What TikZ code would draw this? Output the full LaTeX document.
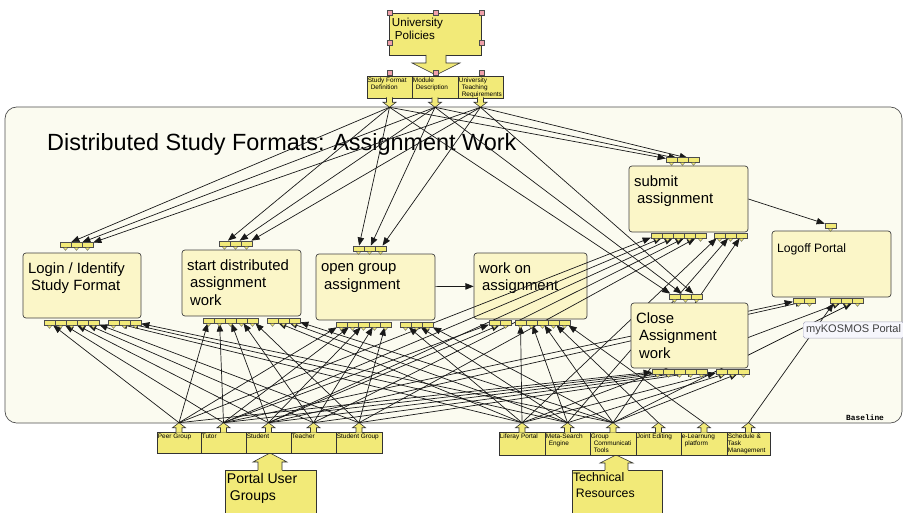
\documentclass[tikz,border=0pt]{standalone}
\usepackage{fontspec}
\setmainfont{Liberation Sans}
\newfontfamily\lanefont{Liberation Mono}
\usepackage{xcolor}
\usetikzlibrary{positioning, calc, arrows.meta, fit}

\definecolor{laneback}{RGB}{251,251,240}
\definecolor{laneline}{RGB}{80,80,80}
\definecolor{procfill}{RGB}{251,246,200}
\definecolor{objyellow}{RGB}{242,234,120}
\definecolor{handlepink}{RGB}{240,160,170}
\definecolor{tipfill}{RGB}{246,246,252}
\definecolor{tipline}{RGB}{170,170,190}

\pgfdeclarelayer{background}
\pgfdeclarelayer{front}
\pgfsetlayers{background,main,front}

% indent of wrapped lines
\newcommand\ind{\hspace*{2.5pt}}

\begin{document}
\begin{tikzpicture}[
  x=0.03cm, y=-0.03cm,
  font=\fontsize{12.7}{15.3}\selectfont,
  proc/.style={draw=black!75, fill=procfill, rounded corners=2.5pt, inner sep=0pt, line width=0.6pt},
  ptext/.style={anchor=north west, inner sep=0pt, align=left, xshift=4.5pt, yshift=-8pt,
    execute at begin node=\strut},
  obj/.style={draw=black!80, fill=objyellow, inner sep=0pt, line width=0.5pt},
  btext/.style={anchor=north west, inner sep=0pt, align=left, execute at begin node=\strut},
  stext/.style={anchor=north west, inner sep=0pt, align=left, xshift=0.8pt, yshift=-1.7pt,
    font=\fontsize{5.5}{6}\selectfont, execute at begin node=\strut},
  cell/.style={draw=black!70, fill=objyellow, minimum width=0.33cm, minimum height=0.16cm,
    inner sep=0pt, line width=0.3pt},
  conn/.style={draw=black!90, line width=0.6pt, -{Triangle[length=7pt, width=5.5pt]}},
  handle/.style={draw=black!70, fill=handlepink, line width=0.4pt},
  upnib/.pic={\filldraw[obj] (-3,1) -- (-3,-4) -- (-6.5,-4) -- (0,-9) -- (6.5,-4) -- (3,-4) -- (3,1);},
  downnib/.pic={\filldraw[obj] (-3,-1) -- (-3,4) -- (-6.5,4) -- (0,9) -- (6.5,4) -- (3,4) -- (3,-1);},
]
\useasboundingbox (0,0) rectangle (903,513);

% ---- lane ----
\begin{pgfonlayer}{background}
  \fill[white] (0,0) rectangle (903,513);
  \draw[draw=laneline, fill=laneback, line width=0.6pt, rounded corners=10pt] (5,107) rectangle (902,423);
\end{pgfonlayer}
\node[anchor=base west, inner sep=0pt, font=\fontsize{20}{24}\selectfont] (title) at (47,151)
  {Distributed Study Formats: Assignment Work};
\node[anchor=base west, inner sep=0pt, font=\fontsize{6.7}{8}\lanefont\bfseries] (lanename) at (846,420) {Baseline};

% ---- functions ----
\node[proc, fit={(23,253)(141,318)}, label={[ptext]north west:Login / Identify\\\ind Study Format}] (login) {};
\node[proc, fit={(182,250)(301,316)}, label={[ptext]north west:start distributed\\\ind assignment\\\ind work}] (start) {};
\node[proc, fit={(316,254)(435,320)}, label={[ptext]north west:open group\\\ind assignment}] (open) {};
\node[proc, fit={(474,253)(587,319)}, label={[ptext]north west:work on\\\ind assignment}] (work) {};
\node[proc, fit={(629,166)(748,232)}, label={[ptext]north west:submit\\\ind assignment}] (submit) {};
\node[proc, fit={(772,231)(891,297)}, label={[ptext, font=\fontsize{10.4}{12.5}\selectfont, yshift=-1.6pt]north west:Logoff Portal}] (logoff) {};
\begin{pgfonlayer}{front}
  \node[proc, fit={(631,303)(748,368)}, label={[ptext]north west:Close\\\ind Assignment\\\ind work}] (close) {};
\end{pgfonlayer}

% ---- policies (top) ----
\node[obj, fit={(389,13)(481,55)}, label={[btext, font=\fontsize{9.9}{11}\selectfont, xshift=2.6pt, yshift=-4.3pt]north west:University\\\ind Policies}] (policies) {};
\fill[objyellow] (426,54) -- (426,63) -- (412,63) -- (436,75) -- (460,63) -- (446,63) -- (446,54) -- cycle;
\draw[black!80, line width=0.5pt] (426,55) -- (426,63) -- (412,63) -- (436,75) -- (460,63) -- (446,63) -- (446,55);
\node[obj, fit={(367,76)(412,98)}, label={[stext]north west:Study Format\\\ind Definition}] (sfd) {};
\node[obj, fit={(412,76)(458,98)}, label={[stext]north west:Module\\\ind Description}] (mod) {};
\node[obj, fit={(458,76)(503,98)}, label={[stext]north west:University\\\ind Teaching\\\ind Requirements}] (utr) {};
\foreach \s in {sfd,mod,utr}{
  \pic at (\s.south) {downnib};
  \coordinate (\s-o) at ($(\s.south)+(0,9)$);
}

% ---- user groups and resources (bottom) ----
\node[obj, fit={(225,470)(316,516)}, label={[btext, font=\fontsize{12}{14.5}\selectfont, xshift=1.7pt, yshift=-2.6pt]north west:Portal User\\\ind Groups}] (users) {};
\fill[objyellow] (258,471) -- (258,462) -- (253,462) -- (270,453) -- (287,462) -- (282,462) -- (282,471) -- cycle;
\draw[black!80, line width=0.5pt] (258,470) -- (258,462) -- (253,462) -- (270,453) -- (287,462) -- (282,462) -- (282,470);
\node[obj, fit={(572,470)(662,516)}, label={[btext, font=\fontsize{10.5}{13.6}\selectfont, xshift=0.9pt, yshift=-2.4pt]north west:Technical\\\ind Resources}] (techres) {};
\fill[objyellow] (605,471) -- (605,463) -- (600,463) -- (616,455) -- (633,463) -- (628,463) -- (628,471) -- cycle;
\draw[black!80, line width=0.5pt] (605,470) -- (605,463) -- (600,463) -- (616,455) -- (633,463) -- (628,463) -- (628,470);

\node[obj, fit={(157,432)(201,453)}, label={[stext]north west:Peer Group}] (peer) {};
\node[obj, fit={(201,432)(246,453)}, label={[stext]north west:Tutor}] (tutor) {};
\node[obj, fit={(246,432)(291,453)}, label={[stext]north west:Student}] (student) {};
\node[obj, fit={(291,432)(336,453)}, label={[stext]north west:Teacher}] (teacher) {};
\node[obj, fit={(336,432)(382,453)}, label={[stext]north west:Student Group}] (sgroup) {};
\node[obj, fit={(499,432)(545,455)}, label={[stext]north west:Liferay Portal}] (liferay) {};
\node[obj, fit={(545,432)(590,455)}, label={[stext]north west:Meta-Search\\\ind Engine}] (meta) {};
\node[obj, fit={(590,432)(636,455)}, label={[stext]north west:Group\\\ind Communicati\\\ind Tools}] (gcomm) {};
\node[obj, fit={(636,432)(681,455)}, label={[stext]north west:Joint Editing}] (joint) {};
\node[obj, fit={(681,432)(727,455)}, label={[stext]north west:e-Learnung\\\ind platform}] (elearn) {};
\node[obj, fit={(727,432)(770,455)}, label={[stext]north west:Schedule \&\\Task\\Management}] (sched) {};
\foreach \s in {peer,tutor,student,teacher,sgroup,liferay,meta,gcomm,joint,elearn,sched}{
  \pic at (\s.north) {upnib};
  \coordinate (\s-o) at ($(\s.north)+(0,-9)$);
}

% ---- connector cells: name / left x / top y / count ----
\begin{pgfonlayer}{front}
\foreach \nm/\x/\y/\n in {login-in/60/242/3, start-in/219/241/3, open-in/353/246/3,
    submit-in/666/157/3, logoff-in/825/223/1, close-in/669/294/3,
    login-u/44/320/5, login-r/108/320/3, start-u/203/318/5, start-r/267/318/3,
    open-u/336/322/5, open-r/400/322/3, work-u/489/320/2, work-r/515/320/5,
    submit-u/651/233/5, submit-r/714/233/3, logoff-u/793/298/2, logoff-r/830/298/3,
    close-u/652/369/5, close-r/716/369/3}{
  \foreach \k in {1,...,\n}{
    \node[cell] (\nm\k) at ({\x+(\k-0.5)*11}, {\y+2.5}) {};
    \filldraw[cell] ($(\nm\k.south)+(-2.5,0)$) -- ++(5,0) -- ++(-2.5,3) -- cycle;
  }
}
\end{pgfonlayer}

% ---- connections ----
\foreach \p in {login,start,open,submit,close}{
  \foreach \s [count=\i] in {sfd,mod,utr}
    \draw[conn] (\s-o) -- (\p-in\i);
  \foreach \s [count=\i] in {peer,tutor,student,teacher,sgroup}
    \draw[conn] (\s-o) -- (\p-u\i);
  \foreach \s [count=\i] in {liferay,meta,gcomm}
    \draw[conn] (\s-o) -- (\p-r\i);
}
\foreach \s [count=\i] in {tutor,student}
  \draw[conn] (\s-o) -- (work-u\i);
\foreach \s [count=\i] in {liferay,meta,gcomm,joint,elearn}
  \draw[conn] (\s-o) -- (work-r\i);
\foreach \s [count=\i] in {tutor,student}
  \draw[conn] (\s-o) -- (logoff-u\i);
\foreach \s [count=\i] in {sched,liferay,gcomm}
  \draw[conn] (\s-o) -- (logoff-r\i);
\draw[conn] (open) -- (work);
\draw[conn] (submit.east) -- (logoff-in1);

% ---- selection handles and tooltip ----
\begin{pgfonlayer}{front}
  \foreach \hx/\hy in {390/13, 436/13, 482/13, 390/43, 482/43, 390/73, 436/73, 482/73}
    \filldraw[handle] (\hx-2.7,\hy-2.7) rectangle (\hx+2.7,\hy+2.7);
  \node[draw=tipline, fill=tipfill, rounded corners=1.5pt, text=black!75, anchor=west,
    font=\fontsize{9.4}{11}\selectfont, inner sep=2.5pt, minimum height=0.48cm] (tooltip) at (803,330) {myKOSMOS Portal};
\end{pgfonlayer}
\end{tikzpicture}
\end{document}
